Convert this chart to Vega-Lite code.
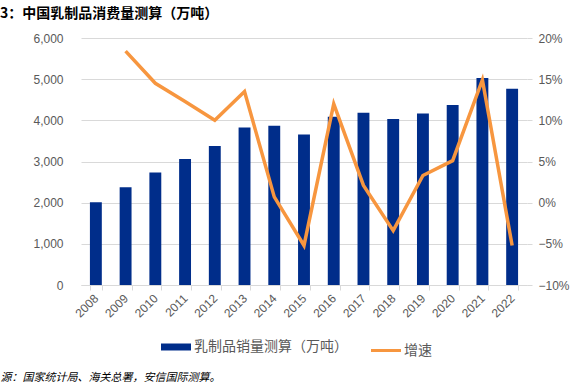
{
  "$schema": "https://vega.github.io/schema/vega-lite/v6.json",
  "autosize": "none",
  "width": 446,
  "height": 247,
  "padding": {"left": 81, "top": 38, "right": 48, "bottom": 98},
  "background": "white",
  "title": {
    "text": "3：中国乳制品消费量测算（万吨）",
    "anchor": "start",
    "frame": "group",
    "dx": -81,
    "offset": 11,
    "fontSize": 14,
    "fontWeight": "bold",
    "font": "Noto Sans CJK SC",
    "color": "#000000"
  },
  "config": {
    "view": {"stroke": null},
    "axis": {"labelFont": "Liberation Sans", "labelColor": "#595959", "labelFontSize": 12}
  },
  "data": {
    "values": [
      {"year": "2008", "volume": 2012, "growth": null},
      {"year": "2009", "volume": 2377, "growth": 0.184},
      {"year": "2010", "volume": 2732, "growth": 0.145},
      {"year": "2011", "volume": 3058, "growth": 0.123},
      {"year": "2012", "volume": 3375, "growth": 0.100},
      {"year": "2013", "volume": 3827, "growth": 0.135},
      {"year": "2014", "volume": 3869, "growth": 0.007},
      {"year": "2015", "volume": 3657, "growth": -0.052},
      {"year": "2016", "volume": 4088, "growth": 0.120},
      {"year": "2017", "volume": 4185, "growth": 0.021},
      {"year": "2018", "volume": 4032, "growth": -0.034},
      {"year": "2019", "volume": 4168, "growth": 0.033},
      {"year": "2020", "volume": 4372, "growth": 0.051},
      {"year": "2021", "volume": 5029, "growth": 0.149},
      {"year": "2022", "volume": 4769, "growth": -0.052}
    ]
  },
  "encoding": {
    "x": {
      "field": "year",
      "type": "ordinal",
      "scale": {"paddingInner": 0.6, "paddingOuter": 0.3},
      "axis": {
        "title": "源：国家统计局、海关总署，安信国际测算。",
        "titleFont": "Noto Sans CJK SC",
        "titleFontSize": 11,
        "titleFontStyle": "italic",
        "titleFontWeight": "normal",
        "titleColor": "#000000",
        "titleAnchor": "start",
        "titleAlign": "left",
        "titleBaseline": "middle",
        "titleX": -81,
        "titleY": 92,
        "labelAngle": -45,
        "labelAlign": "right",
        "labelBaseline": "middle",
        "labelPadding": 6,
        "labelFontSize": 12,
        "tickBand": "extent",
        "tickColor": "#D9D9D9",
        "tickSize": 5,
        "domainColor": "#D9D9D9",
        "grid": false
      }
    },
    "color": {
      "scale": {
        "domain": ["乳制品销量测算（万吨）", "增速"],
        "range": ["#002D8A", "#F7963F"]
      },
      "legend": {
        "title": null,
        "orient": "none",
        "direction": "horizontal",
        "legendX": 88,
        "legendY": 302,
        "symbolType": "stroke",
        "symbolSize": 900,
        "symbolStrokeWidth": 4,
        "labelFont": "Noto Sans CJK SC",
        "labelFontSize": 14,
        "labelColor": "#595959",
        "columnPadding": 17,
        "labelOffset": 11,
        "encode": {
          "symbols": {
            "update": {
              "strokeWidth": {"signal": "datum.value === '增速' ? 3 : 7"},
              "stroke": {"scale": "color", "field": "value"}
            }
          }
        }
      }
    }
  },
  "layer": [
    {
      "mark": {"type": "bar", "color": "#002D8A"},
      "encoding": {
        "y": {
          "field": "volume",
          "type": "quantitative",
          "scale": {"domain": [0, 6000], "nice": false},
          "axis": {
            "title": null,
            "values": [0, 1000, 2000, 3000, 4000, 5000, 6000],
            "format": ",d",
            "domain": false,
            "ticks": false,
            "labelPadding": 18,
            "gridColor": "#D9D9D9",
            "gridWidth": 1
          }
        },
        "color": {"datum": "乳制品销量测算（万吨）"}
      }
    },
    {
      "mark": {"type": "line", "strokeWidth": 3.5, "color": "#F7963F", "strokeJoin": "miter"},
      "encoding": {
        "y": {
          "field": "growth",
          "type": "quantitative",
          "scale": {"domain": [-0.1, 0.2], "nice": false},
          "axis": {
            "orient": "right",
            "title": null,
            "values": [-0.1, -0.05, 0, 0.05, 0.1, 0.15, 0.2],
            "format": ".0%",
            "domain": false,
            "ticks": true,
            "tickColor": "#D9D9D9",
            "tickSize": 5,
            "labelPadding": 6,
            "grid": false
          }
        },
        "color": {"datum": "增速"}
      }
    }
  ],
  "resolve": {"scale": {"y": "independent"}}
}
